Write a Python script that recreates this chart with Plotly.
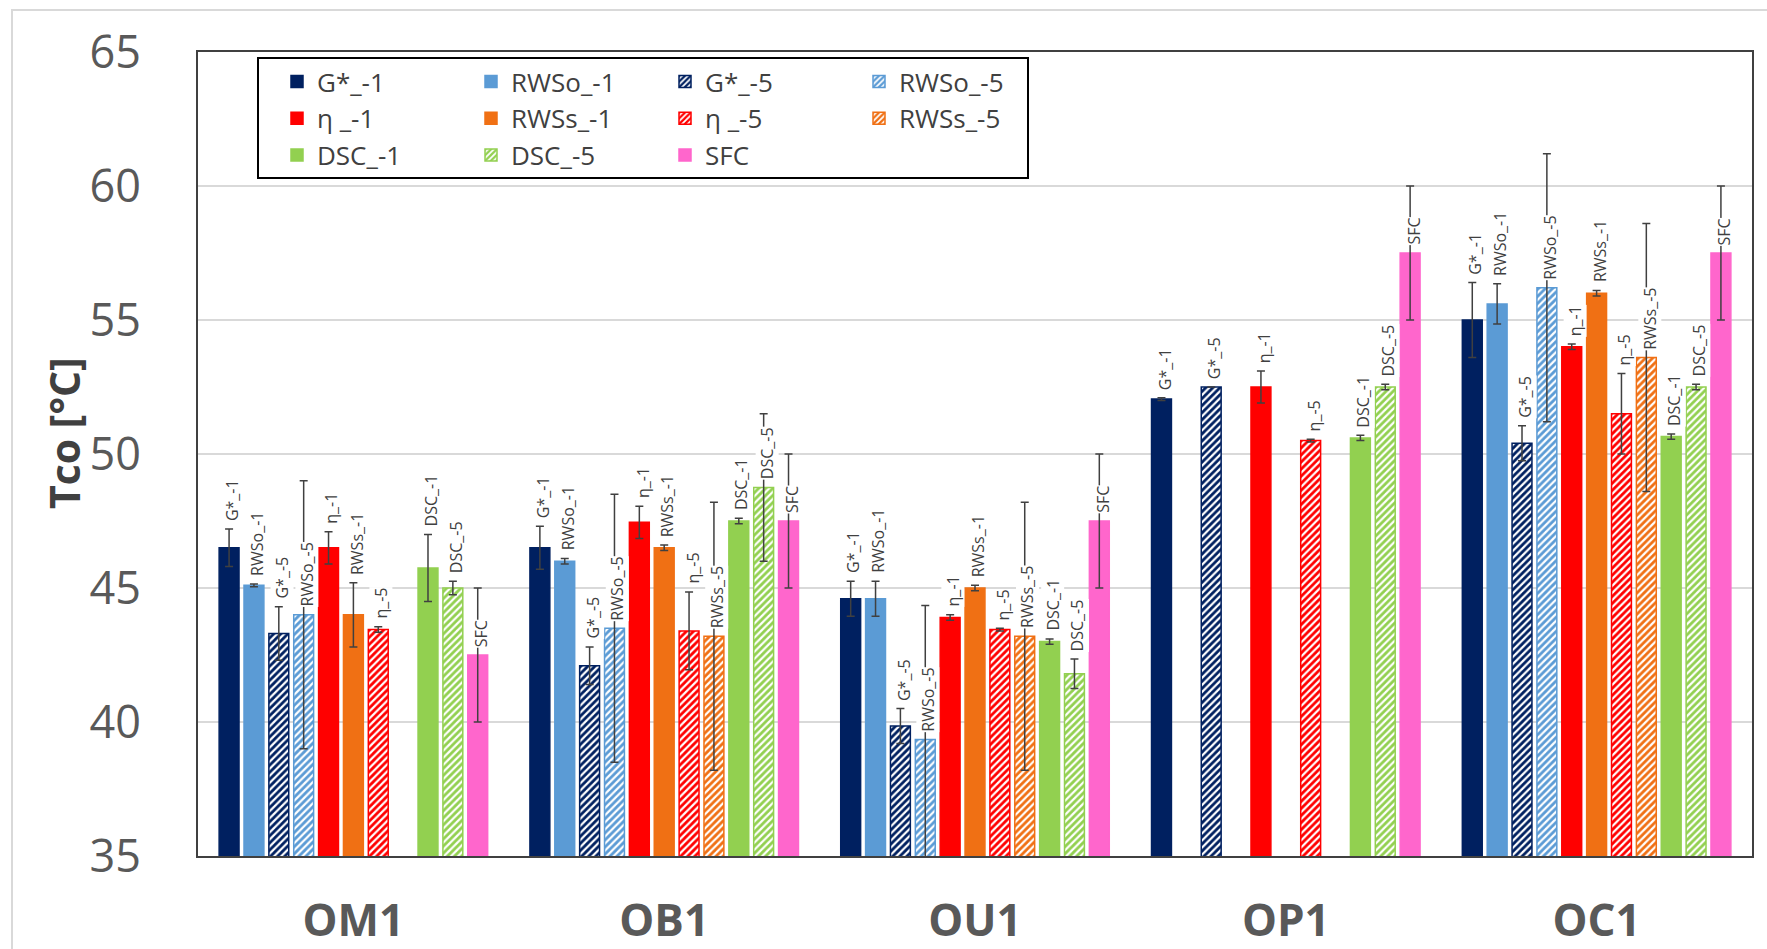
import plotly.graph_objects as go

# ---- data -------------------------------------------------------------
groups = ["OM1", "OB1", "OU1", "OP1", "OC1"]

series_names = ["G*_-1", "RWSo_-1", "G*_-5", "RWSo_-5", "η_-1", "RWSs_-1",
                "η_-5", "RWSs_-5", "DSC_-1", "DSC_-5", "SFC"]
legend_names = ["G*_-1", "RWSo_-1", "G*_-5", "RWSo_-5", "η _-1", "RWSs_-1",
                "η _-5", "RWSs_-5", "DSC_-1", "DSC_-5", "SFC"]

g_1 = [46.5, 46.5, 44.6, 52.05, 55.0]
g_1_err = [0.7, 0.8, 0.65, 0.05, 1.4]
rwso_1 = [45.1, 46.0, 44.6, None, 55.6]
rwso_1_err = [0.05, 0.1, 0.65, None, 0.75]
g_5 = [43.3, 42.1, 39.85, 52.5, 50.4]
g_5_err = [1.0, 0.7, 0.65, None, 0.65]
rwso_5 = [44.0, 43.5, 39.35, None, 56.2]
rwso_5_err = [5.0, 5.0, 5.0, None, 5.0]
eta_1 = [46.5, 47.45, 43.9, 52.5, 54.0]
eta_1_err = [0.6, 0.6, 0.1, 0.6, 0.1]
rwss_1 = [44.0, 46.5, 45.0, None, 56.0]
rwss_1_err = [1.2, 0.1, 0.1, None, 0.1]
eta_5 = [43.45, 43.4, 43.45, 50.5, 51.5]
eta_5_err = [0.1, 1.45, 0.05, 0.05, 1.5]
rwss_5 = [None, 43.2, 43.2, None, 53.6]
rwss_5_err = [None, 5.0, 5.0, None, 5.0]
dsc_1 = [45.75, 47.5, 43.0, 50.6, 50.65]
dsc_1_err = [1.25, 0.1, 0.1, 0.1, 0.1]
dsc_5 = [45.0, 48.75, 41.8, 52.5, 52.5]
dsc_5_err = [0.25, 2.75, 0.55, 0.1, 0.1]
sfc = [42.5, 47.5, 47.5, 57.5, 57.5]
sfc_err = [2.5, 2.5, 2.5, 2.5, 2.5]

values = [g_1, rwso_1, g_5, rwso_5, eta_1, rwss_1, eta_5, rwss_5, dsc_1, dsc_5, sfc]
errors = [g_1_err, rwso_1_err, g_5_err, rwso_5_err, eta_1_err, rwss_1_err,
          eta_5_err, rwss_5_err, dsc_1_err, dsc_5_err, sfc_err]

# ---- styling ----------------------------------------------------------
NAVY, BLUE, RED, ORANGE, GREEN, PINK = "#002060", "#5B9BD5", "#FF0000", "#F07014", "#92D050", "#FF66CC"
colors = [NAVY, BLUE, NAVY, BLUE, RED, ORANGE, RED, ORANGE, GREEN, GREEN, PINK]
hatched = [False, False, True, True, False, False, True, True, False, True, False]
legend_column = [1, 2, 3, 4, 1, 2, 3, 4, 1, 2, 3]

GRAY_TXT = "#595959"
DARK_TXT = "#404040"
FONT = "Open Sans"

W, H = 1767, 949
ML, MR, MT, MB = 198, 15, 52, 93
PW, PH = W - ML - MR, H - MT - MB
BARGAP = 0.12
N = len(series_names)


def px_x(px):
    return (px - ML) / PW


def px_y(py):
    return (H - MB - py) / PH


fig = go.Figure()

for i in range(N):
    marker = dict(color=colors[i], line=dict(color=colors[i], width=1.5))
    if hatched[i]:
        marker["pattern"] = dict(shape="/", fgcolor=colors[i], bgcolor="white",
                                 size=5, solidity=0.55, fillmode="replace")
    fig.add_trace(go.Bar(
        x=groups, y=values[i], name=legend_names[i],
        legendgroup=f"col{legend_column[i]}",
        marker=marker,
        error_y=dict(type="data", array=errors[i], visible=True,
                     color=DARK_TXT, thickness=1.5, width=4),
    ))

# rotated series-name labels above each bar
slot = (1 - BARGAP) / N
annotations = []
for i in range(N):
    for gi, v in enumerate(values[i]):
        if v is None:
            continue
        e = errors[i][gi]
        base = v + e if (e is not None and e < 2) else v
        annotations.append(dict(
            x=gi - (1 - BARGAP) / 2 + (i + 0.5) * slot, y=base,
            xref="x", yref="y", text=series_names[i], textangle=-90,
            showarrow=False, xanchor="center", yanchor="bottom",
            xshift=3, yshift=7, bgcolor="white", borderpad=0,
            font=dict(family=FONT, size=16, color=DARK_TXT),
        ))

annotations.append(dict(
    x=px_x(64), y=px_y(433), xref="paper", yref="paper",
    text="Tco [°C]", textangle=-90, showarrow=False,
    xanchor="center", yanchor="middle",
    font=dict(family=FONT, size=41, color=DARK_TXT, weight="bold"),
))

shapes = [
    # outer frame
    dict(type="rect", xref="paper", yref="paper",
         x0=px_x(12), x1=px_x(1790), y0=px_y(980), y1=px_y(10),
         line=dict(color="#d9d9d9", width=2), fillcolor="rgba(0,0,0,0)", layer="below"),
    # legend frame
    dict(type="rect", xref="paper", yref="paper",
         x0=px_x(258), x1=px_x(1028), y0=px_y(178), y1=px_y(58),
         line=dict(color="black", width=2), fillcolor="white", layer="above"),
]

fig.update_layout(
    width=W, height=H,
    margin=dict(l=ML, r=MR, t=MT, b=MB, autoexpand=False),
    paper_bgcolor="white", plot_bgcolor="white",
    barmode="group", bargap=BARGAP, bargroupgap=0.2,
    font=dict(family=FONT, color=GRAY_TXT),
    showlegend=True,
    legend=dict(orientation="h", traceorder="grouped",
                x=px_x(277), y=px_y(58), xanchor="left", yanchor="top",
                entrywidth=149, entrywidthmode="pixels",
                bgcolor="rgba(0,0,0,0)", borderwidth=0,
                font=dict(family=FONT, size=26, color=DARK_TXT)),
    annotations=annotations,
    shapes=shapes,
)

fig.update_xaxes(
    automargin=False,
    showline=True, mirror=True, linecolor="#404040", linewidth=2,
    ticks="outside", ticklen=25, tickcolor="rgba(0,0,0,0)",
    tickfont=dict(family=FONT, size=44, color=GRAY_TXT, weight="bold"),
    showgrid=False,
)
fig.update_yaxes(
    automargin=False,
    range=[35, 65], dtick=5, tick0=35,
    showline=True, mirror=True, linecolor="#404040", linewidth=2,
    ticks="outside", ticklen=46, tickcolor="rgba(0,0,0,0)",
    tickfont=dict(family=FONT, size=45, color=GRAY_TXT),
    showgrid=True, gridcolor="#d9d9d9", gridwidth=1.5,
    zeroline=False,
)

fig.write_html("out.html")
